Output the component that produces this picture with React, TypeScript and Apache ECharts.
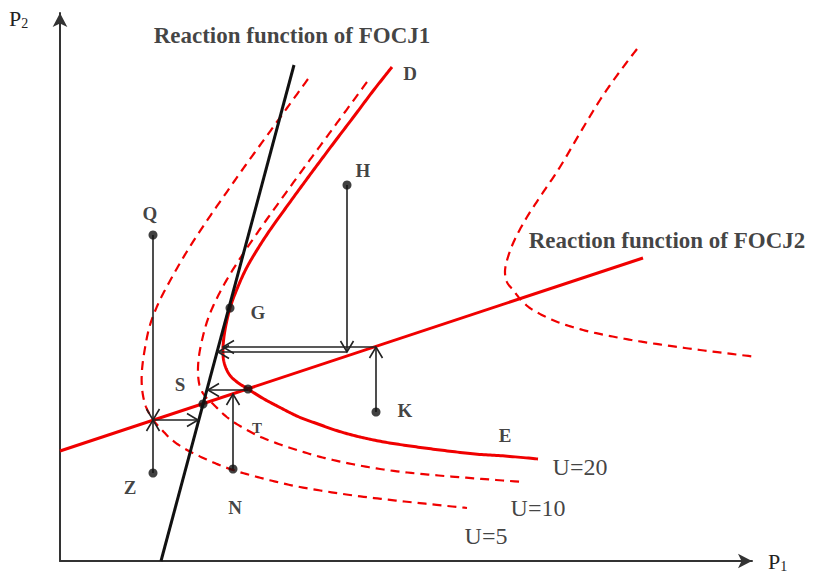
import { useEffect, useRef } from "react";
import * as echarts from "echarts";

// Reaction functions (straight lines)
const focj1 = [[101, 0], [234, 496]];
const focj2 = [[0, 110], [583, 303]];

// Iso-utility contours
const u20 = [
  [332, 494], [313, 470], [295, 446], [276, 421], [258, 397], [241, 374],
  [225, 352], [210, 331], [197, 311], [186, 292], [177, 272], [170, 253],
  [165, 231], [163, 213], [164, 199], [169, 187], [177, 179], [188, 172],
  [204, 162], [221, 153], [239, 144], [258, 137], [278, 130], [300, 124],
  [324, 119], [350, 115], [380, 111], [415, 107], [445, 105], [478, 102],
];
const u10 = [
  [307, 479], [285, 449], [263, 419], [241, 389], [220, 360], [200, 332],
  [183, 307], [169, 285], [158, 265], [149, 245], [143, 225], [139, 205],
  [138, 188], [140, 174], [145, 165], [152, 158], [168, 143], [187, 131],
  [208, 121], [240, 110], [273, 101], [320, 92], [373, 86], [463, 79],
];
const u5 = [
  [248, 482], [227, 453], [206, 424], [185, 395], [164, 365], [144, 336],
  [126, 308], [111, 282], [99, 259], [90, 236], [85, 213], [82, 191],
  [82, 173], [85, 157], [90, 146], [93, 141], [102, 131], [112, 121],
  [127, 111], [150, 100], [173, 91], [205, 82], [240, 74], [290, 66],
  [340, 60], [407, 53],
];
const uHigh = [
  [577, 512], [558, 487], [540, 461], [520, 428], [500, 394], [482, 367],
  [467, 344], [455, 322], [448, 304], [445, 290], [447, 279], [453, 271],
  [462, 260], [473, 251], [495, 240], [523, 231], [555, 224], [590, 218],
  [640, 211], [697, 204],
];

// Labelled points
const pointNames = ["Q", "H", "G", "S", "T", "K", "Z", "N"];
const pointValues = [
  [93, 326], [287, 376], [170, 253], [143, 157], [188, 172], [316, 149], [93, 88], [173, 92],
];

// Adjustment paths: [fromX, fromY, toX, toY]
const arrows = [
  [93, 326, 93, 141],
  [93, 88, 93, 141],
  [93, 141, 138, 141],
  [287, 376, 287, 209],
  [287, 209, 158, 209],
  [316, 149, 316, 214],
  [316, 214, 163, 214],
  [173, 92, 173, 167],
  [188, 171, 148, 171],
];

// Text annotations placed in data space
const noteTexts = ["Reaction function of FOCJ1", "Reaction function of FOCJ2", "D", "E", "U=20", "U=10", "U=5"];
const notePositions = [[232, 526], [607, 321], [350, 488], [445, 126], [520, 94], [478, 53], [426, 25]];

const SERIF = '"Liberation Serif", "DejaVu Serif", serif';
const RED = "#f00000";
const INK = "#111111";

const labelOffsets: Record<string, number[]> = {
  Q: [-3, -22], H: [16, -15], G: [28, 4], S: [-23, -20],
  T: [9, 39], K: [29, -2], Z: [-23, 14], N: [2, 38],
};

// Catmull-Rom spline through pixel points, flattened into a dense polyline
function splinePath(px: number[][]): number[][] {
  const out: number[][] = [];
  const n = px.length;
  const steps = 14;
  for (let i = 0; i < n - 1; i++) {
    const p0 = px[Math.max(0, i - 1)];
    const p1 = px[i];
    const p2 = px[i + 1];
    const p3 = px[Math.min(n - 1, i + 2)];
    const c1 = [p1[0] + (p2[0] - p0[0]) / 6, p1[1] + (p2[1] - p0[1]) / 6];
    const c2 = [p2[0] - (p3[0] - p1[0]) / 6, p2[1] - (p3[1] - p1[1]) / 6];
    for (let s = 0; s < steps; s++) {
      const t = s / steps;
      const m = 1 - t;
      out.push([
        m * m * m * p1[0] + 3 * m * m * t * c1[0] + 3 * m * t * t * c2[0] + t * t * t * p2[0],
        m * m * m * p1[1] + 3 * m * m * t * c1[1] + 3 * m * t * t * c2[1] + t * t * t * p2[1],
      ]);
    }
  }
  out.push(px[n - 1]);
  return out;
}

export default function App() {
  const ref = useRef<HTMLDivElement>(null);

  useEffect(() => {
    if (!ref.current) return;
    const chart = echarts.init(ref.current, null, { renderer: "svg" });

    const noteStyles = [
      { fontSize: 23, fontWeight: "bold" },
      { fontSize: 23, fontWeight: "bold" },
      { fontSize: 19, fontWeight: "bold" },
      { fontSize: 19, fontWeight: "bold" },
      { fontSize: 24, fontWeight: "normal" },
      { fontSize: 24, fontWeight: "normal" },
      { fontSize: 24, fontWeight: "normal" },
    ];

    const curve = (name: string, data: number[][], dashed: boolean, width: number) => ({
      name,
      type: "custom",
      clip: false,
      z: 2,
      data,
      renderItem: (params: any, api: any) => {
        if (params.dataIndex !== 0) return { type: "group", children: [] };
        const px = data.map((p) => api.coord(p));
        return {
          type: "polyline",
          shape: { points: splinePath(px) },
          style: {
            stroke: RED,
            lineWidth: width,
            fill: "none",
            lineDash: dashed ? [9, 6] : null,
          },
        };
      },
    });

    const axisCommon = {
      type: "value",
      axisLine: {
        show: true,
        symbol: ["none", "arrow"],
        symbolSize: [11, 14],
        lineStyle: { color: "#333", width: 2 },
      },
      axisTick: { show: false },
      axisLabel: { show: false },
      splitLine: { show: false },
    };

    const sub = (digit: string) => `{p|P}{s|${digit}}`;
    const subRich = {
      p: { fontFamily: SERIF, fontSize: 22, fill: "#222" },
      s: { fontFamily: SERIF, fontSize: 14, fill: "#222", padding: [9, 0, 0, 0] },
    };

    chart.setOption({
      animation: false,
      backgroundColor: "#ffffff",
      grid: { left: 60, right: 61, top: 13, bottom: 14 },
      xAxis: { ...axisCommon, min: 0, max: 692 },
      yAxis: { ...axisCommon, min: 0, max: 548 },
      graphic: [
        { type: "text", x: 9, y: 7, style: { text: sub("2"), rich: subRich } },
        { type: "text", x: 768, y: 550, style: { text: sub("1"), rich: subRich } },
      ],
      series: [
        curve("U=5", u5, true, 2.2),
        curve("U=10", u10, true, 2.2),
        curve("U high", uHigh, true, 2.2),
        curve("U=20", u20, false, 3),
        {
          name: "FOCJ2",
          type: "line",
          data: focj2,
          symbol: "none",
          clip: false,
          lineStyle: { color: RED, width: 3 },
          z: 3,
        },
        {
          name: "FOCJ1",
          type: "line",
          data: focj1,
          symbol: "none",
          clip: false,
          lineStyle: { color: INK, width: 3 },
          z: 3,
        },
        {
          name: "adjustment",
          type: "custom",
          clip: false,
          z: 4,
          data: arrows,
          renderItem: (_params: any, api: any) => {
            const a = api.coord([api.value(0), api.value(1)]);
            const b = api.coord([api.value(2), api.value(3)]);
            const dx = b[0] - a[0];
            const dy = b[1] - a[1];
            const len = Math.hypot(dx, dy) || 1;
            const ux = dx / len;
            const uy = dy / len;
            const L = 11;
            const W = 6.5;
            const bx = b[0] - ux * L;
            const by = b[1] - uy * L;
            const left = [bx - uy * W, by + ux * W];
            const right = [bx + uy * W, by - ux * W];
            const style = { stroke: "#222", lineWidth: 1.6, fill: "none" };
            return {
              type: "group",
              children: [
                { type: "line", shape: { x1: a[0], y1: a[1], x2: b[0], y2: b[1] }, style },
                { type: "polyline", shape: { points: [left, b, right] }, style },
              ],
            };
          },
        },
        {
          name: "points",
          type: "scatter",
          clip: false,
          z: 5,
          symbolSize: 9,
          itemStyle: { color: INK },
          data: pointNames.map((n, i) => ({
            name: n,
            value: pointValues[i],
            label: {
              show: true,
              formatter: n,
              position: "inside",
              offset: labelOffsets[n],
              fontFamily: SERIF,
              fontWeight: "bold",
              fontSize: n === "T" ? 15 : 19,
              color: "#111",
            },
          })),
        },
        {
          name: "notes",
          type: "scatter",
          clip: false,
          z: 6,
          symbolSize: 0,
          silent: true,
          data: noteTexts.map((t, i) => ({
            name: t,
            value: notePositions[i],
            label: {
              show: true,
              formatter: t,
              position: "inside",
              fontFamily: SERIF,
              color: "#111",
              ...noteStyles[i],
            },
          })),
        },
      ],
    });

    return () => chart.dispose();
  }, []);

  return (
    <div
      ref={ref}
      style={{ position: "fixed", left: 0, top: 0, width: 813, height: 575, background: "#fff" }}
    />
  );
}
